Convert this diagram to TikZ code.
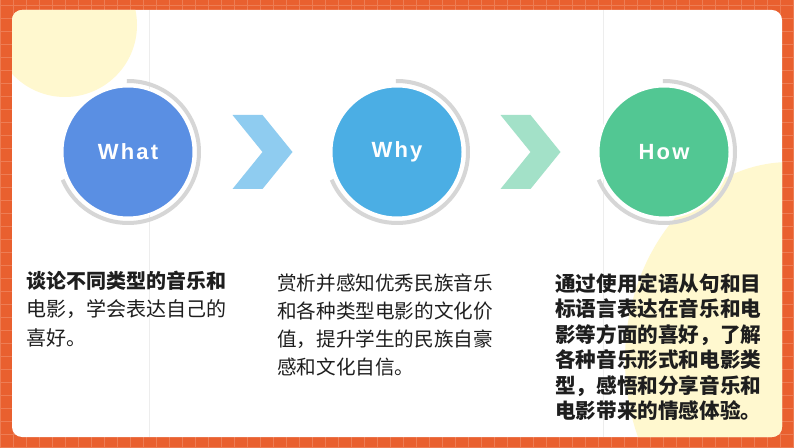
\documentclass[tikz,border=0pt]{standalone}
\usepackage{fontspec}
\usepackage{xcolor}
\usetikzlibrary{calc}
\newfontfamily\cjk{Noto Sans CJK SC}
\newfontfamily\headfont{Liberation Sans}[LetterSpace=10]
\definecolor{orangebg}{HTML}{E9602F}
\definecolor{paleyellow}{HTML}{FFF8CF}
\definecolor{whatblue}{HTML}{5A8FE3}
\definecolor{whyblue}{HTML}{4BAEE4}
\definecolor{howgreen}{HTML}{52C793}
\definecolor{ringgray}{HTML}{D6D6D6}
\definecolor{chevblue}{HTML}{8FCCF0}
\definecolor{chevgreen}{HTML}{A3E1C8}
\definecolor{inkdark}{HTML}{1E1E1E}
\tikzset{circ/.style={circle, minimum size=131, inner sep=0, draw=white, line width=2pt, text=white,
		font=\headfont\bfseries\fontsize{22}{22}\selectfont},
	ring/.style={draw=ringgray, line width=4pt},
	para/.style={anchor=base west, align=left, inner sep=0, text=inkdark}}

\begin{document}
\begin{tikzpicture}[x=1pt, y=1pt]
		\useasboundingbox (0,0) rectangle (794,447);
		\fill[orangebg] (0,0) rectangle (794,447);
		\draw[orangebg!82!white, line width=.5pt] (0,0) grid[step=13] (794,447);
		\fill[white, rounded corners=10] (12,10) rectangle (782,437);
		\begin{scope}
		\clip[rounded corners=10] (12,10) rectangle (782,437);
		\fill[paleyellow] (65,422) circle[radius=72];
		\fill[paleyellow] (790,87) ellipse[x radius=165, y radius=198];
		\draw[black!7, line width=.6pt] (149,10)--++(0,427);
		\draw[black!7, line width=.6pt] (603,10)--++(0,427);
		\end{scope}
		% circles
		\node[circ, fill=whatblue] (what) at (128,295) {What};
		\node[circ, fill=whyblue] (why) at (397,295) {Why};
		\node[circ, fill=howgreen] (how) at (664,295) {How};
		\draw[ring] (what.center)++(91:71) arc[start angle=91, end angle=-157, radius=71];
		\draw[ring] (why.center)++(91:71) arc[start angle=91, end angle=-157, radius=71];
		\draw[ring] (how.center)++(91:71) arc[start angle=91, end angle=-157, radius=71];
		% chevrons
		\fill[chevblue] ($(what)!.5!(why)$)++(-30,37)--++(30,0)--++(30,-37)--++(-30,-37)--++(-30,0)--++(30,37)--cycle;
		\fill[chevgreen] ($(why)!.5!(how)$)++(-30,37)--++(30,0)--++(30,-37)--++(-30,-37)--++(-30,0)--++(30,37)--cycle;
		% texts (base = last line)
		\node[para, font=\cjk\fontsize{20}{28.5}\selectfont] (txtwhat) at (26,101.5)
			{{\bfseries 谈论不同类型的音乐和}\\电影，学会表达自己的\\喜好。};
		\node[para, font=\cjk\fontsize{19.6}{28}\selectfont] (txtwhy) at (277,72.5)
			{赏析并感知优秀民族音乐\\和各种类型电影的文化价\\值，提升学生的民族自豪\\感和文化自信。};
		\node[para, font=\cjk\bfseries\fontsize{20.6}{25.5}\selectfont] (txthow) at (555,28.5)
			{通过使用定语从句和目\\标语言表达在音乐和电\\影等方面的喜好，了解\\各种音乐形式和电影类\\型，感悟和分享音乐和\\电影带来的情感体验。};
		\end{tikzpicture}
\end{document}
